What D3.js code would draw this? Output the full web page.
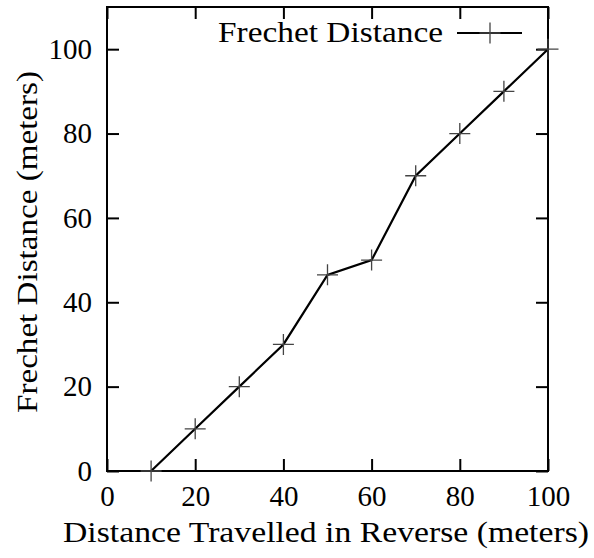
<!DOCTYPE html>
<html>
<head>
<meta charset="utf-8">
<script src="https://cdn.jsdelivr.net/npm/d3@7"></script>
<style>
  body { margin: 0; background: #fff; }
  svg text { font-family: "Liberation Serif", "DejaVu Serif", serif; fill: #000; }
</style>
</head>
<body>
<svg id="root"></svg>
<script>
(function () {
  // data
  const distTravelled = [10, 20, 30, 40, 50, 60, 70, 80, 90, 100];
  const frechetDist = [0, 10, 20, 30, 46.5, 50, 70, 80, 90, 100];
  const xTicks = [0, 20, 40, 60, 80, 100];
  const yTicks = [0, 20, 40, 60, 80, 100];
  const seriesName = "Frechet Distance";

  const W = 594, H = 558;
  const margin = { top: 7, right: 46, bottom: 87, left: 107 };
  const fontSize = 29;
  const tickLen = 12;

  let svg = d3.select("#root")
    .attr("width", W)
    .attr("height", H);

  let x = d3.scaleLinear().domain([0, 100]).range([margin.left, W - margin.right]);
  let y = d3.scaleLinear().domain([0, 110]).range([H - margin.bottom, margin.top]);

  let points = distTravelled.map((d, i) => ({ x: d, y: frechetDist[i] }));

  // ticks on all four sides, pointing inwards
  let xAxisB = d3.axisBottom(x).tickValues(xTicks).tickSizeInner(-tickLen).tickSizeOuter(0).tickPadding(14);
  let xAxisT = d3.axisTop(x).tickValues(xTicks).tickSizeInner(-tickLen).tickSizeOuter(0).tickFormat("");
  let yAxisL = d3.axisLeft(y).tickValues(yTicks).tickSizeInner(-tickLen).tickSizeOuter(0).tickPadding(15);
  let yAxisR = d3.axisRight(y).tickValues(yTicks).tickSizeInner(-tickLen).tickSizeOuter(0).tickFormat("");

  function styleAxis(g) {
    g.select(".domain").remove();
    g.selectAll(".tick line").attr("stroke", "#000").attr("stroke-width", 2);
    g.selectAll(".tick text").attr("font-size", fontSize).attr("font-family", null);
  }

  svg.append("g").attr("transform", `translate(0,${y(0)})`).call(xAxisB).call(styleAxis)
    .selectAll(".tick text").attr("dy", "0.71em");
  svg.append("g").attr("transform", `translate(0,${margin.top})`).call(xAxisT).call(styleAxis);
  svg.append("g").attr("transform", `translate(${margin.left},0)`).call(yAxisL).call(styleAxis);
  svg.append("g").attr("transform", `translate(${W - margin.right},0)`).call(yAxisR).call(styleAxis);

  // frame
  svg.append("rect")
    .attr("x", margin.left)
    .attr("y", margin.top)
    .attr("width", W - margin.left - margin.right)
    .attr("height", H - margin.top - margin.bottom)
    .attr("fill", "none")
    .attr("stroke", "#000")
    .attr("stroke-width", 2);

  // series line
  let line = d3.line().x(d => x(d.x)).y(d => y(d.y));
  svg.append("path")
    .datum(points)
    .attr("d", line)
    .attr("fill", "none")
    .attr("stroke", "#000")
    .attr("stroke-width", 2.2);

  // cross markers
  const cs = 10.5;
  function cross(cx, cy) {
    return `M${cx - cs},${cy}H${cx + cs}M${cx},${cy - cs}V${cy + cs}`;
  }
  svg.selectAll(".marker")
    .data(points)
    .enter().append("path")
    .attr("class", "marker")
    .attr("d", d => cross(x(d.x), y(d.y)))
    .attr("stroke", "#444")
    .attr("stroke-width", 1.3)
    .attr("fill", "none");

  // legend
  let ly = 33;
  svg.append("text")
    .attr("x", 443)
    .attr("y", ly)
    .attr("dy", "0.32em")
    .attr("text-anchor", "end")
    .attr("font-size", fontSize)
    .attr("textLength", 225)
    .attr("lengthAdjust", "spacingAndGlyphs")
    .text(seriesName);
  svg.append("line")
    .attr("x1", 457).attr("x2", 522)
    .attr("y1", ly).attr("y2", ly)
    .attr("stroke", "#000")
    .attr("stroke-width", 2.2);
  svg.append("path")
    .attr("d", cross(490, ly))
    .attr("stroke", "#444")
    .attr("stroke-width", 1.3);

  // axis titles (stretched to the width of the original's wider serif)
  svg.append("text")
    .attr("x", 326)
    .attr("y", 542)
    .attr("text-anchor", "middle")
    .attr("font-size", fontSize)
    .attr("textLength", 526)
    .attr("lengthAdjust", "spacingAndGlyphs")
    .text("Distance Travelled in Reverse (meters)");

  svg.append("text")
    .attr("transform", `translate(37,242) rotate(-90)`)
    .attr("text-anchor", "middle")
    .attr("font-size", fontSize)
    .attr("textLength", 342)
    .attr("lengthAdjust", "spacingAndGlyphs")
    .text("Frechet Distance (meters)");
})();
</script>
</body>
</html>
